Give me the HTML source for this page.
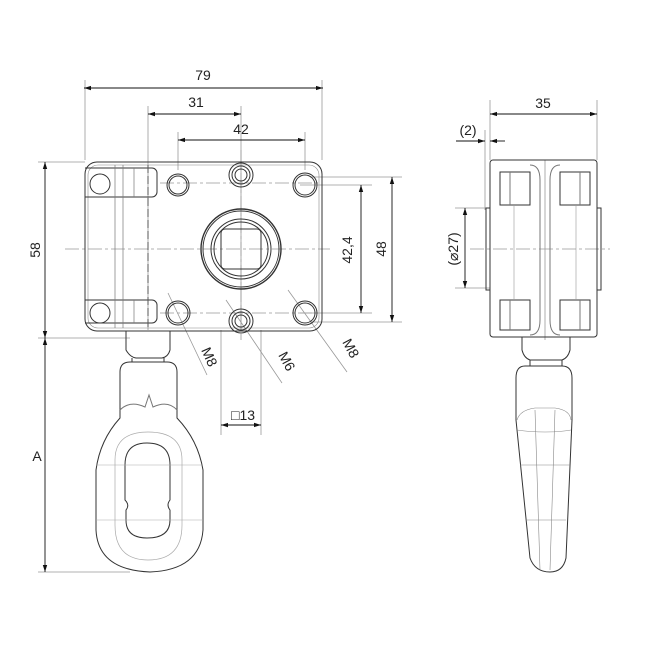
<!DOCTYPE html>
<html><head><style>body{margin:0;background:#fff}svg{display:block}text{font-family:"Liberation Sans",sans-serif;font-size:14px;fill:#222}</style></head><body>
<svg width="650" height="650" viewBox="0 0 650 650" xmlns="http://www.w3.org/2000/svg">
<defs><marker id="a" markerWidth="8" markerHeight="6" refX="8" refY="3" orient="auto-start-reverse"><path d="M0,0.5 L8,3 L0,5.5z" fill="#111"/></marker></defs>
<g stroke="#999" stroke-width="0.8" fill="none">
<!-- extension lines -->
<path d="M85 80V160M322 80V160M148 106V330M241 106V330M178 132V170M305 132V170"/>
<path d="M38 162H85M38 338H130M38 572H130"/>
<path d="M300 185H372M300 313H372M310 177H402M310 322H402"/>
<path d="M221 330V435M261 330V435"/>
<path d="M490 100V160M597 100V160M485 130V210M455 208H490M455 288H490"/>
<!-- centerlines -->
<path d="M65 249H330M241 150V340M160 183H320M160 313H320M470 249H610" stroke-dasharray="14 3 3 3"/>
<path d="M545 160V340"/>
<!-- leaders -->
<path d="M168 293L207 375M226 300L282 383M288 290L347 372"/>
</g>
<g stroke="#111" stroke-width="0.9" fill="none">
<path d="M84 88H323" marker-start="url(#a)" marker-end="url(#a)"/>
<path d="M148 114H241" marker-start="url(#a)" marker-end="url(#a)"/>
<path d="M178 140H305" marker-start="url(#a)" marker-end="url(#a)"/>
<path d="M45 162V338" marker-start="url(#a)" marker-end="url(#a)"/>
<path d="M45 338V572" marker-start="url(#a)" marker-end="url(#a)"/>
<path d="M361 185V313" marker-start="url(#a)" marker-end="url(#a)"/>
<path d="M392 177V322" marker-start="url(#a)" marker-end="url(#a)"/>
<path d="M221 425H261" marker-start="url(#a)" marker-end="url(#a)"/>
<path d="M490 114H597" marker-start="url(#a)" marker-end="url(#a)"/>
<path d="M465 208V288" marker-start="url(#a)" marker-end="url(#a)"/>
<path d="M456 141H485" marker-end="url(#a)"/><path d="M505 141H490" marker-end="url(#a)"/>
</g>
<g stroke="#333" stroke-width="1" fill="none">
<!-- plate -->
<rect x="85" y="162" width="237" height="169" rx="12"/>
<rect x="88" y="165" width="231" height="163" rx="10" stroke="#888" stroke-width="0.6"/>
<path d="M85 168H152a5 5 0 0 1 5 5V192a5 5 0 0 1 -5 5H85M85 300H152a5 5 0 0 1 5 5V318a5 5 0 0 1 -5 5H85"/>
<circle cx="100" cy="184" r="10"/><circle cx="100" cy="313" r="10"/>
<path d="M115 165V328M123 165V328M134 168V197M134 300V323" stroke="#777" stroke-width="0.7"/>
<path d="M148 165V330" stroke-dasharray="8 3" stroke="#555"/>
<circle cx="178" cy="185" r="11"/><circle cx="178" cy="185" r="9"/>
<circle cx="241" cy="175" r="12"/><circle cx="241" cy="175" r="9"/><circle cx="241" cy="175" r="6"/>
<circle cx="305" cy="185" r="12"/><circle cx="305" cy="185" r="10"/>
<circle cx="178" cy="313" r="12"/><circle cx="178" cy="313" r="10"/>
<circle cx="241" cy="321" r="12"/><circle cx="241" cy="321" r="9"/><circle cx="241" cy="321" r="6"/>
<circle cx="305" cy="313" r="12"/><circle cx="305" cy="313" r="10"/>
<circle cx="241" cy="249" r="40" stroke-width="1.4"/><circle cx="241" cy="249" r="38"/>
<circle cx="241" cy="249" r="30"/><circle cx="241" cy="249" r="27"/>
<rect x="221" y="229" width="40" height="40" rx="4"/>
<!-- shaft + eye -->
<path d="M126 331V350Q130 357 136 358H162Q168 357 170 350V331"/>
<path d="M132 358V362H164V358"/>
<path d="M130 362Q120 362 120 372V418Q100 440 96 470V530Q98 570 150 572Q200 570 203 530V470Q198 440 177 418V372Q177 362 167 362Z"/>
<path d="M120 410Q130 400 145 407L149 395L153 407Q168 400 177 410" stroke="#777"/>
<path d="M147 443Q125 443 125 465V500Q130 505 126 510V520Q126 538 147 538Q170 538 170 520V510Q166 505 170 500V465Q170 443 147 443Z"/>
<path d="M115 460V525Q115 560 148 560Q182 560 182 525V460Q182 432 148 432Q115 432 115 460Z" stroke="#aaa" stroke-width="0.7"/>
<path d="M96 465H203M96 520H203" stroke="#aaa" stroke-width="0.6"/>
<!-- side view -->
<rect x="490" y="160" width="107" height="177" rx="3"/>
<path d="M500 172H530V205H500ZM560 172H590V205H560ZM500 300H530V330H500ZM560 300H590V330H560Z"/>
<path d="M510 172V205M580 172V205M510 300V330M580 300V330" stroke="#777"/>
<path d="M530 165Q540 165 540 180V320Q540 335 530 335M560 165Q550 165 550 180V320Q550 335 560 335" stroke="#777"/>
<path d="M490 208H486V290H490M597 208H601V290H597"/>
<path d="M514 205V300M576 205V300" stroke="#999" stroke-width="0.6"/>
<path d="M522 337V350Q524 358 530 360H562Q568 358 570 350V337M530 360V366H562V360"/>
<path d="M525 366Q516 366 516 378V420L530 558Q535 572 550 572Q563 572 566 558L572 420V378Q572 366 562 366Z"/>
<path d="M517 420Q520 410 535 408H555Q570 410 571 420M517 430Q530 432 545 432Q560 432 571 430M520 465H570M526 520H566M535 410L540 570M555 410L550 570" stroke="#888" stroke-width="0.6"/>
</g>
<text x="203" y="80" text-anchor="middle">79</text>
<text x="196" y="107" text-anchor="middle">31</text>
<text x="241" y="134" text-anchor="middle">42</text>
<text x="543" y="108" text-anchor="middle">35</text>
<text x="468" y="135" text-anchor="middle">(2)</text>
<text transform="translate(40 250) rotate(-90)" text-anchor="middle">58</text>
<text x="37" y="461" font-size="17" text-anchor="middle">A</text>
<text transform="translate(352 250) rotate(-90)" text-anchor="middle">42,4</text>
<text transform="translate(386 249) rotate(-90)" text-anchor="middle">48</text>
<text transform="translate(458 249) rotate(-90)" text-anchor="middle">(⌀27)</text>
<text x="243" y="420" text-anchor="middle">□13</text>
<text transform="translate(201 350) rotate(66)">M8</text>
<text transform="translate(278 355) rotate(62)">M6</text>
<text transform="translate(342 342) rotate(62)">M8</text>
</svg>
</body></html>
